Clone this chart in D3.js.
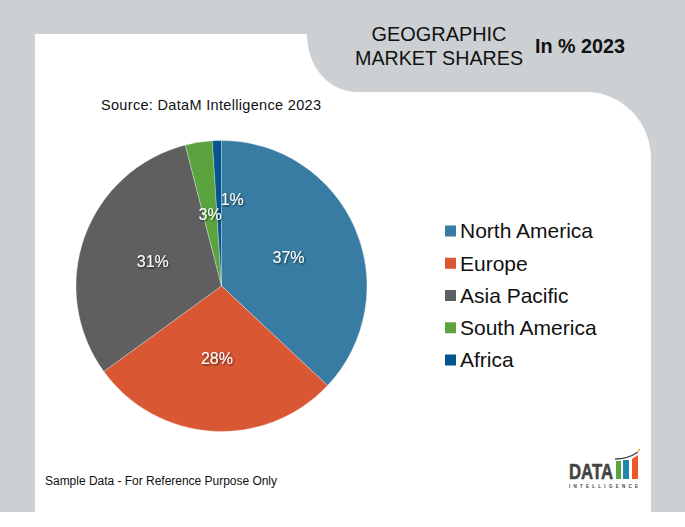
<!DOCTYPE html>
<html>
<head>
<meta charset="utf-8">
<script src="https://cdnjs.cloudflare.com/ajax/libs/d3/7.8.5/d3.min.js"></script>
<style>
  html, body { margin: 0; padding: 0; background: #fff; }
  svg { display: block; }
  text { font-family: "Liberation Sans", Arial, sans-serif; }
</style>
</head>
<body>
<svg id="chart" width="685" height="527"></svg>
<script>
// chart data
var categories = ['North America', 'Europe', 'Asia Pacific', 'South America', 'Africa'];
var shares = [37, 28, 31, 3, 1];
var colors = ['#387ca3', '#d95733', '#5f5f5f', '#5ba33f', '#05548f'];

var svg = d3.select('#chart');

var defs = svg.append('defs');
var shadow = defs.append('filter').attr('id', 'labelShadow')
  .attr('x', '-30%').attr('y', '-30%').attr('width', '160%').attr('height', '160%');
shadow.append('feDropShadow')
  .attr('dx', 1).attr('dy', 1).attr('stdDeviation', 0.8)
  .attr('flood-color', '#000').attr('flood-opacity', 0.7);

// background + white panel with the curved cut-outs
svg.append('rect').attr('width', 685).attr('height', 512).attr('fill', '#cdd0d3');
svg.append('path')
  .attr('fill', '#fff')
  .attr('d', 'M35,34 H307 C307,66 328,92 358,92 H586 C622,92 651,122 651,158 V512 H35 Z');

// titles
svg.append('text').attr('x', 439).attr('y', 41).attr('text-anchor', 'middle')
  .attr('font-size', 20).attr('textLength', 135).attr('lengthAdjust', 'spacingAndGlyphs')
  .attr('fill', '#111').text('GEOGRAPHIC');
svg.append('text').attr('x', 439).attr('y', 65).attr('text-anchor', 'middle')
  .attr('font-size', 20).attr('textLength', 168).attr('lengthAdjust', 'spacingAndGlyphs')
  .attr('fill', '#111').text('MARKET SHARES');
svg.append('text').attr('x', 535).attr('y', 53)
  .attr('font-size', 20).attr('font-weight', 'bold')
  .attr('textLength', 90).attr('lengthAdjust', 'spacingAndGlyphs')
  .attr('fill', '#111').text('In % 2023');
svg.append('text').attr('x', 101).attr('y', 110)
  .attr('font-size', 14.5).attr('textLength', 220).attr('lengthAdjust', 'spacing')
  .attr('fill', '#111').text('Source: DataM Intelligence  2023');

// pie
var cx = 221.5, cy = 286, radius = 145.5;
var pie = d3.pie().sort(null).value(function(d) { return d; });
var arc = d3.arc().innerRadius(0).outerRadius(radius);
var labelArc = d3.arc().innerRadius(73).outerRadius(73);
var arcs = pie(shares);

var g = svg.append('g').attr('transform', 'translate(' + cx + ',' + cy + ')');
g.selectAll('path.slice')
  .data(arcs)
  .enter().append('path')
  .attr('class', 'slice')
  .attr('d', arc)
  .attr('fill', function(d, i) { return colors[i]; })
  .attr('stroke', '#fff')
  .attr('stroke-opacity', 0.6)
  .attr('stroke-width', 0.5);

// the 1% label sits off its slice in the original
var labelNudge = [[0, 0], [0, 0], [0, 0], [0, 0], [13, -14]];
g.selectAll('text.pct')
  .data(arcs)
  .enter().append('text')
  .attr('class', 'pct')
  .attr('transform', function(d, i) {
    var c = labelArc.centroid(d);
    return 'translate(' + (c[0] + labelNudge[i][0]) + ',' + (c[1] + labelNudge[i][1]) + ')';
  })
  .attr('text-anchor', 'middle')
  .attr('dy', '0.35em')
  .attr('font-size', 16)
  .attr('fill', '#fff')
  .attr('filter', 'url(#labelShadow)')
  .text(function(d) { return d.data + '%'; });

// legend
var legendY = d3.scalePoint().domain(categories).range([231, 360]);
var legend = svg.selectAll('g.legend')
  .data(categories)
  .enter().append('g')
  .attr('class', 'legend')
  .attr('transform', function(d) { return 'translate(445,' + legendY(d) + ')'; });
legend.append('rect')
  .attr('x', 0).attr('y', -5.5).attr('width', 11).attr('height', 11)
  .attr('fill', function(d, i) { return colors[i]; });
legend.append('text')
  .attr('x', 15).attr('dy', '0.35em')
  .attr('font-size', 21)
  .attr('fill', '#111')
  .text(function(d) { return d; });

// footer note
svg.append('text').attr('x', 45).attr('y', 485)
  .attr('font-size', 12).attr('textLength', 232).attr('lengthAdjust', 'spacing')
  .attr('fill', '#111').text('Sample Data - For Reference Purpose Only');

// logo
var logo = svg.append('g');
logo.append('text').attr('x', 569).attr('y', 479)
  .attr('font-size', 22).attr('font-weight', 'bold')
  .attr('textLength', 44).attr('lengthAdjust', 'spacingAndGlyphs')
  .attr('stroke', '#444').attr('stroke-width', 0.6)
  .attr('fill', '#444').text('DATA');
logo.append('rect').attr('x', 616).attr('y', 461).attr('width', 5).attr('height', 18).attr('fill', '#5ba33f');
logo.append('rect').attr('x', 623).attr('y', 460).attr('width', 6).attr('height', 19).attr('fill', '#1f88a8');
logo.append('path').attr('d', 'M632,459 L638,455 V479 H632 Z').attr('fill', '#f0562a');
logo.append('path').attr('d', 'M615,459 Q628,459 638,452').attr('fill', 'none').attr('stroke', '#444').attr('stroke-width', 1.5);
logo.append('circle').attr('cx', 639).attr('cy', 450).attr('r', 1.2).attr('fill', '#f5b53f');
logo.append('text').attr('x', 569).attr('y', 488)
  .attr('font-size', 4.5).attr('font-weight', 'bold')
  .attr('textLength', 69).attr('lengthAdjust', 'spacing')
  .attr('fill', '#444').text('INTELLIGENCE');
</script>
</body>
</html>
